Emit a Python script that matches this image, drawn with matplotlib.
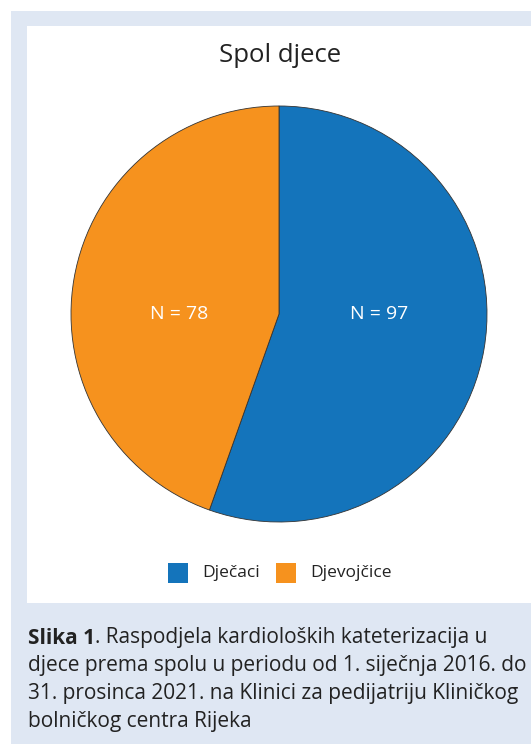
import matplotlib.pyplot as plt
from matplotlib.patches import Rectangle

# --- podaci ---
labels = ['Dječaci', 'Djevojčice']
counts = [97, 78]
colors = ['#1474bb', '#f6921e']
title_text = 'Spol djece'
caption_bold = 'Slika 1'
caption_lines = [
    '. Raspodjela kardioloških kateterizacija u',
    'djece prema spolu u periodu od 1. siječnja 2016. do',
    '31. prosinca 2021. na Klinici za pedijatriju Kliničkog',
    'bolničkog centra Rijeka',
]

W, H = 531, 744
plt.rcParams['font.family'] = ['Open Sans', 'DejaVu Sans']

fig = plt.figure(figsize=(W / 100, H / 100), dpi=100)
fig.patch.set_facecolor('white')

# px -> figure coords
def box(x0, y0, x1, y1):
    return [x0 / W, 1 - y1 / H, (x1 - x0) / W, (y1 - y0) / H]

bg = fig.add_axes([0, 0, 1, 1])
bg.set_xlim(0, W)
bg.set_ylim(H, 0)
bg.axis('off')
bg.add_patch(Rectangle((11, 11), W - 11, H - 11, color='#dfe7f3', lw=0))
bg.add_patch(Rectangle((27, 26), W - 27, 603 - 26, color='white', lw=0))

bg.text(280, 56, title_text, ha='center', va='center', fontsize=18.5, color='#222222')

# pita
cx, cy, r = 279, 314, 208
ax = fig.add_axes(box(cx - r, cy - r, cx + r, cy + r))
ax.pie(counts, colors=colors, startangle=90, counterclock=False,
       wedgeprops=dict(edgecolor='#333333', linewidth=0.6))
ax.set_aspect('equal')
ax.set_xlim(-1, 1)
ax.set_ylim(-1, 1)
ax.text(0.48, 0.0, f'N = {counts[0]}', ha='center', va='center', color='white', fontsize=14)
ax.text(-0.48, 0.0, f'N = {counts[1]}', ha='center', va='center', color='white', fontsize=14)

# legenda
lx = [168, 276]
for i, lab in enumerate(labels):
    bg.add_patch(Rectangle((lx[i], 563), 20, 20, color=colors[i], lw=0))
    bg.text(lx[i] + 34, 573, lab, ha='left', va='center', fontsize=12.5, color='#222222')

# opis slike
y0 = 638
fs = 15
t = bg.text(28, y0, caption_bold, ha='left', va='center', fontsize=fs,
            fontweight='bold', color='#222222')
fig.canvas.draw()
bold_w = t.get_window_extent().width
for i, line in enumerate(caption_lines):
    x = 28 + bold_w if i == 0 else 28
    bg.text(x, y0 + 28 * i, line, ha='left', va='center', fontsize=fs, color='#222222')

fig.savefig('out.png', dpi=100)
